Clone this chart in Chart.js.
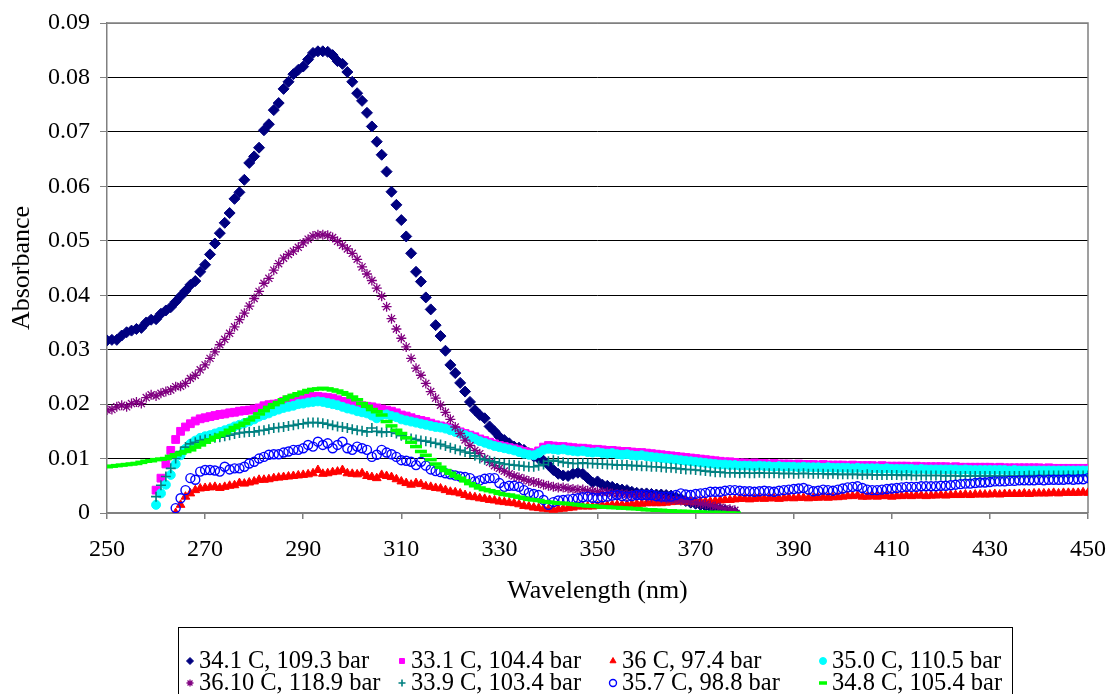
<!DOCTYPE html>
<html>
<head>
<meta charset="utf-8">
<title>Absorbance spectra</title>
<script src="https://cdn.jsdelivr.net/npm/chart.js@4/dist/chart.umd.min.js"></script>
<style>
  html, body { margin: 0; padding: 0; background: #fff; }
  #wrap { width: 1109px; height: 694px; }
</style>
</head>
<body>
<div id="wrap"><canvas id="specChart" width="1109" height="694"></canvas></div>
<script>
// Absorbance readings, one value per nm starting at the listed wavelength

// 34.1 C, 109.3 bar (from 250 nm)
const abs341 = [
  0.0317,0.0318,0.0318,0.0326,0.0332,0.0335,0.0338,0.0340,0.0350,0.0355,
  0.0356,0.0366,0.0372,0.0378,0.0388,0.0398,0.0408,0.0419,0.0426,0.0443,
  0.0456,0.0475,0.0495,0.0514,0.0533,0.0551,0.0577,0.0589,0.0612,0.0643,
  0.0655,0.0671,0.0703,0.0714,0.0740,0.0753,0.0779,0.0792,0.0806,0.0814,
  0.0820,0.0833,0.0845,0.0848,0.0848,0.0847,0.0841,0.0830,0.0825,0.0810,
  0.0792,0.0771,0.0757,0.0735,0.0710,0.0682,0.0658,0.0627,0.0590,0.0566,
  0.0538,0.0508,0.0477,0.0443,0.0425,0.0396,0.0374,0.0345,0.0325,0.0298,
  0.0272,0.0257,0.0239,0.0223,0.0204,0.0189,0.0180,0.0174,0.0159,0.0150,
  0.0140,0.0134,0.0128,0.0122,0.0120,0.0116,0.0110,0.0104,0.0100,0.0096,
  0.0088,0.0079,0.0072,0.0069,0.0068,0.0072,0.0074,0.0072,0.0064,0.0056,
  0.0058,0.0052,0.0050,0.0048,0.0045,0.0043,0.0042,0.0039,0.0037,0.0036,
  0.0036,0.0035,0.0034,0.0034,0.0033,0.0032,0.0029,0.0026,0.0022,0.0019,
  0.0017,0.0015,0.0013,0.0011,0.0009,0.0007,0.0005,0.0003,0.0001
];

// 33.1 C, 104.4 bar (from 260 nm)
const abs331 = [
  0.0042,0.0064,0.0090,0.0115,0.0135,0.0150,0.0158,0.0164,0.0169,0.0173,
  0.0175,0.0177,0.0179,0.0181,0.0182,0.0184,0.0185,0.0187,0.0188,0.0189,
  0.0191,0.0193,0.0197,0.0199,0.0200,0.0201,0.0205,0.0208,0.0211,0.0212,
  0.0213,0.0214,0.0214,0.0214,0.0213,0.0212,0.0211,0.0208,0.0205,0.0203,
  0.0200,0.0198,0.0197,0.0196,0.0195,0.0193,0.0191,0.0189,0.0187,0.0184,
  0.0180,0.0178,0.0175,0.0172,0.0170,0.0168,0.0165,0.0162,0.0160,0.0158,
  0.0155,0.0152,0.0149,0.0146,0.0143,0.0140,0.0136,0.0133,0.0130,0.0127,
  0.0124,0.0122,0.0120,0.0118,0.0116,0.0113,0.0111,0.0110,0.0114,0.0121,
  0.0124,0.0123,0.0122,0.0122,0.0121,0.0120,0.0119,0.0119,0.0118,0.0117,
  0.0117,0.0116,0.0115,0.0115,0.0114,0.0113,0.0113,0.0112,0.0111,0.0111,
  0.0110,0.0109,0.0108,0.0107,0.0106,0.0105,0.0104,0.0103,0.0102,0.0101,
  0.0100,0.0099,0.0098,0.0097,0.0096,0.0095,0.0094,0.0094,0.0093,0.0092,
  0.0092,0.0091,0.0092,0.0091,0.0091,0.0090,0.0091,0.0090,0.0090,0.0090,
  0.0089,0.0090,0.0089,0.0089,0.0089,0.0088,0.0089,0.0088,0.0088,0.0088,
  0.0088,0.0087,0.0088,0.0087,0.0087,0.0087,0.0087,0.0086,0.0087,0.0086,
  0.0086,0.0086,0.0086,0.0086,0.0085,0.0086,0.0085,0.0085,0.0085,0.0085,
  0.0085,0.0085,0.0084,0.0085,0.0084,0.0084,0.0084,0.0084,0.0084,0.0084,
  0.0084,0.0083,0.0084,0.0083,0.0083,0.0083,0.0083,0.0083,0.0083,0.0083,
  0.0083,0.0082,0.0083,0.0082,0.0082,0.0082,0.0082,0.0082,0.0082,0.0082,0.0082
];

// 36 C, 97.4 bar (from 264 nm)
const abs360 = [
  0.0000,0.0015,0.0030,0.0036,0.0042,0.0045,
  0.0046,0.0047,0.0048,0.0046,0.0048,0.0050,0.0051,0.0055,0.0054,0.0056,
  0.0058,0.0061,0.0061,0.0062,0.0064,0.0065,0.0066,0.0067,0.0068,0.0069,
  0.0070,0.0071,0.0073,0.0079,0.0072,0.0073,0.0075,0.0076,0.0079,0.0073,
  0.0072,0.0071,0.0073,0.0068,0.0066,0.0064,0.0070,0.0068,0.0066,0.0062,
  0.0058,0.0055,0.0052,0.0055,0.0053,0.0049,0.0048,0.0046,0.0045,0.0042,
  0.0039,0.0038,0.0036,0.0033,0.0030,0.0029,0.0027,0.0026,0.0024,0.0023,
  0.0021,0.0020,0.0019,0.0018,0.0016,0.0013,0.0012,0.0010,0.0009,0.0008,
  0.0007,0.0006,0.0007,0.0008,0.0009,0.0010,0.0012,0.0012,0.0012,0.0012,
  0.0013,0.0014,0.0014,0.0015,0.0015,0.0015,0.0015,0.0016,0.0017,0.0017,
  0.0018,0.0018,0.0018,0.0018,0.0019,0.0020,0.0021,0.0021,0.0021,0.0021,
  0.0021,0.0021,0.0021,0.0021,0.0022,0.0023,0.0024,0.0024,0.0025,0.0026,
  0.0026,0.0025,0.0026,0.0027,0.0026,0.0027,0.0027,0.0026,0.0027,0.0028,
  0.0027,0.0028,0.0028,0.0027,0.0028,0.0028,0.0029,0.0028,0.0029,0.0029,
  0.0030,0.0031,0.0031,0.0032,0.0030,0.0030,0.0031,0.0030,0.0031,0.0031,
  0.0030,0.0031,0.0031,0.0032,0.0031,0.0032,0.0032,0.0031,0.0032,0.0032,
  0.0033,0.0032,0.0033,0.0033,0.0033,0.0034,0.0033,0.0034,0.0034,0.0034,
  0.0034,0.0035,0.0034,0.0035,0.0035,0.0035,0.0035,0.0036,0.0035,0.0036,
  0.0036,0.0036,0.0036,0.0037,0.0036,0.0037,0.0037,0.0037,0.0037,0.0038,0.0037
];

// 35.0 C, 110.5 bar (from 260 nm)
const abs350 = [
  0.0015,0.0036,0.0052,0.0070,0.0090,0.0106,0.0118,0.0127,0.0133,0.0138,
  0.0141,0.0143,0.0146,0.0149,0.0152,0.0155,0.0159,0.0162,0.0165,0.0168,
  0.0172,0.0177,0.0180,0.0183,0.0187,0.0190,0.0193,0.0195,0.0197,0.0200,
  0.0201,0.0203,0.0204,0.0205,0.0204,0.0202,0.0200,0.0198,0.0195,0.0192,
  0.0190,0.0187,0.0185,0.0183,0.0179,0.0174,0.0180,0.0181,0.0178,0.0176,
  0.0172,0.0170,0.0168,0.0166,0.0164,0.0162,0.0160,0.0158,0.0157,0.0155,
  0.0152,0.0149,0.0146,0.0143,0.0140,0.0136,0.0132,0.0129,0.0126,0.0123,
  0.0121,0.0119,0.0117,0.0115,0.0112,0.0109,0.0107,0.0106,0.0110,0.0116,
  0.0118,0.0117,0.0116,0.0117,0.0115,0.0114,0.0113,0.0114,0.0112,0.0111,
  0.0112,0.0110,0.0109,0.0110,0.0108,0.0107,0.0108,0.0106,0.0105,0.0106,
  0.0104,0.0103,0.0102,0.0101,0.0100,0.0099,0.0098,0.0097,0.0096,0.0095,
  0.0094,0.0093,0.0092,0.0091,0.0090,0.0089,0.0089,0.0088,0.0088,0.0087,
  0.0087,0.0087,0.0086,0.0087,0.0086,0.0086,0.0085,0.0086,0.0085,0.0085,
  0.0085,0.0084,0.0085,0.0084,0.0084,0.0084,0.0083,0.0084,0.0083,0.0083,
  0.0083,0.0083,0.0082,0.0083,0.0082,0.0082,0.0082,0.0082,0.0081,0.0082,
  0.0081,0.0081,0.0081,0.0081,0.0081,0.0080,0.0081,0.0080,0.0080,0.0080,
  0.0080,0.0080,0.0080,0.0080,0.0079,0.0080,0.0079,0.0079,0.0079,0.0079,
  0.0079,0.0079,0.0079,0.0079,0.0078,0.0079,0.0078,0.0078,0.0078,0.0078,
  0.0078,0.0078,0.0078,0.0078,0.0078,0.0078,0.0078,0.0078,0.0078,0.0078,0.0078
];

// 36.10 C, 118.9 bar (from 250 nm)
const abs3610 = [
  0.0189,0.0190,0.0195,0.0198,0.0195,0.0201,0.0204,0.0201,0.0212,0.0217,
  0.0215,0.0220,0.0223,0.0226,0.0232,0.0233,0.0238,0.0247,0.0253,0.0263,
  0.0272,0.0284,0.0296,0.0309,0.0319,0.0330,0.0342,0.0355,0.0367,0.0380,
  0.0394,0.0407,0.0422,0.0431,0.0446,0.0458,0.0468,0.0475,0.0481,0.0488,
  0.0496,0.0503,0.0509,0.0511,0.0511,0.0510,0.0506,0.0499,0.0492,0.0485,
  0.0477,0.0466,0.0452,0.0439,0.0427,0.0413,0.0398,0.0379,0.0357,0.0338,
  0.0321,0.0305,0.0284,0.0266,0.0253,0.0238,0.0223,0.0211,0.0198,0.0185,
  0.0172,0.0158,0.0146,0.0134,0.0124,0.0115,0.0109,0.0100,0.0093,0.0087,
  0.0082,0.0077,0.0072,0.0068,0.0065,0.0062,0.0059,0.0057,0.0055,0.0052,
  0.0050,0.0048,0.0047,0.0047,0.0045,0.0044,0.0043,0.0043,0.0041,0.0040,
  0.0039,0.0038,0.0038,0.0036,0.0035,0.0035,0.0034,0.0033,0.0032,0.0031,
  0.0030,0.0029,0.0029,0.0027,0.0026,0.0025,0.0024,0.0023,0.0022,0.0020,
  0.0019,0.0017,0.0016,0.0014,0.0012,0.0010,0.0008,0.0007,0.0005
];

// 33.9 C, 103.4 bar (from 260 nm)
const abs339 = [
  0.0030,0.0051,0.0067,0.0082,0.0100,0.0113,0.0121,0.0127,0.0130,0.0133,
  0.0135,0.0136,0.0138,0.0139,0.0141,0.0143,0.0145,0.0147,0.0148,0.0149,
  0.0149,0.0151,0.0152,0.0154,0.0156,0.0157,0.0158,0.0160,0.0161,0.0163,
  0.0164,0.0166,0.0166,0.0166,0.0165,0.0163,0.0161,0.0159,0.0158,0.0156,
  0.0154,0.0152,0.0151,0.0149,0.0156,0.0150,0.0148,0.0149,0.0149,0.0146,
  0.0142,0.0139,0.0137,0.0135,0.0133,0.0132,0.0130,0.0128,0.0126,0.0123,
  0.0120,0.0117,0.0115,0.0112,0.0110,0.0105,0.0100,0.0098,0.0096,0.0094,
  0.0092,0.0090,0.0089,0.0088,0.0087,0.0086,0.0085,0.0085,0.0087,0.0089,
  0.0095,0.0097,0.0095,0.0093,0.0092,0.0091,0.0091,0.0092,0.0091,0.0091,
  0.0090,0.0090,0.0089,0.0089,0.0088,0.0088,0.0088,0.0087,0.0087,0.0086,
  0.0086,0.0085,0.0085,0.0084,0.0083,0.0083,0.0082,0.0081,0.0080,0.0080,
  0.0079,0.0078,0.0077,0.0076,0.0075,0.0075,0.0074,0.0074,0.0074,0.0073,
  0.0074,0.0073,0.0073,0.0074,0.0073,0.0073,0.0073,0.0073,0.0072,0.0073,
  0.0072,0.0072,0.0073,0.0072,0.0072,0.0072,0.0072,0.0071,0.0072,0.0071,
  0.0071,0.0071,0.0071,0.0071,0.0070,0.0071,0.0070,0.0070,0.0070,0.0070,
  0.0070,0.0070,0.0069,0.0070,0.0069,0.0069,0.0069,0.0069,0.0069,0.0069,
  0.0069,0.0068,0.0069,0.0068,0.0068,0.0068,0.0068,0.0068,0.0068,0.0068,
  0.0068,0.0068,0.0068,0.0068,0.0068,0.0068,0.0068,0.0068,0.0069,0.0068,
  0.0069,0.0069,0.0069,0.0069,0.0069,0.0069,0.0069,0.0069,0.0069,0.0069,0.0069
];

// 35.7 C, 98.8 bar (from 264 nm)
const abs357 = [
  0.0009,0.0027,0.0042,0.0064,0.0061,0.0076,
  0.0079,0.0079,0.0078,0.0076,0.0085,0.0080,0.0082,0.0082,0.0085,0.0091,
  0.0094,0.0100,0.0103,0.0107,0.0108,0.0108,0.0111,0.0113,0.0116,0.0116,
  0.0119,0.0125,0.0122,0.0131,0.0125,0.0128,0.0119,0.0125,0.0131,0.0119,
  0.0116,0.0122,0.0119,0.0116,0.0103,0.0107,0.0116,0.0111,0.0108,0.0103,
  0.0097,0.0096,0.0094,0.0088,0.0094,0.0087,0.0080,0.0077,0.0075,0.0073,
  0.0071,0.0069,0.0067,0.0066,0.0064,0.0058,0.0060,0.0063,0.0064,0.0064,
  0.0055,0.0048,0.0050,0.0050,0.0048,0.0042,0.0037,0.0035,0.0033,0.0024,
  0.0015,0.0020,0.0023,0.0024,0.0025,0.0026,0.0027,0.0029,0.0030,0.0028,
  0.0027,0.0029,0.0030,0.0032,0.0033,0.0031,0.0030,0.0031,0.0033,0.0033,
  0.0033,0.0033,0.0031,0.0030,0.0030,0.0030,0.0033,0.0036,0.0034,0.0033,
  0.0035,0.0036,0.0037,0.0039,0.0039,0.0039,0.0041,0.0042,0.0042,0.0041,
  0.0040,0.0040,0.0039,0.0040,0.0041,0.0040,0.0039,0.0041,0.0042,0.0043,
  0.0044,0.0045,0.0046,0.0043,0.0040,0.0041,0.0043,0.0042,0.0041,0.0043,
  0.0045,0.0047,0.0048,0.0049,0.0046,0.0043,0.0042,0.0042,0.0043,0.0044,
  0.0045,0.0046,0.0047,0.0048,0.0048,0.0048,0.0049,0.0049,0.0049,0.0049,
  0.0050,0.0050,0.0051,0.0052,0.0053,0.0054,0.0054,0.0055,0.0056,0.0056,
  0.0057,0.0058,0.0058,0.0058,0.0059,0.0059,0.0060,0.0060,0.0060,0.0060,
  0.0061,0.0060,0.0061,0.0061,0.0061,0.0061,0.0062,0.0061,0.0062,0.0062,0.0064
];

// 34.8 C, 105.4 bar (from 250 nm)
const abs348 = [
  0.0085,0.0086,0.0087,0.0088,0.0089,0.0090,0.0091,0.0093,0.0095,0.0096,
  0.0098,0.0099,0.0100,0.0104,0.0107,0.0110,0.0113,0.0116,0.0121,0.0125,
  0.0130,0.0134,0.0139,0.0143,0.0147,0.0152,0.0157,0.0161,0.0165,0.0171,
  0.0176,0.0182,0.0188,0.0194,0.0199,0.0203,0.0208,0.0213,0.0216,0.0219,
  0.0222,0.0225,0.0227,0.0228,0.0229,0.0228,0.0226,0.0224,0.0221,0.0218,
  0.0213,0.0208,0.0201,0.0196,0.0190,0.0186,0.0180,0.0168,0.0160,0.0152,
  0.0146,0.0138,0.0130,0.0122,0.0113,0.0106,0.0098,0.0090,0.0084,0.0078,
  0.0073,0.0068,0.0064,0.0059,0.0054,0.0050,0.0046,0.0043,0.0041,0.0039,
  0.0036,0.0034,0.0033,0.0031,0.0029,0.0027,0.0025,0.0024,0.0023,0.0021,
  0.0020,0.0019,0.0018,0.0018,0.0017,0.0016,0.0015,0.0014,0.0013,0.0013,
  0.0012,0.0011,0.0011,0.0010,0.0010,0.0009,0.0009,0.0008,0.0008,0.0007,
  0.0006,0.0006,0.0005,0.0005,0.0004,0.0004,0.0003,0.0003,0.0003,0.0002,
  0.0002,0.0002,0.0001,0.0001,0.0001,0.0001,0.0000,0.0000,0.0000
];

// axis ticks
const xTicks = [250, 270, 290, 310, 330, 350, 370, 390, 410, 430, 450];
const yTicks = [0, 0.01, 0.02, 0.03, 0.04, 0.05, 0.06, 0.07, 0.08, 0.09];

const serif = '"Liberation Serif", "Times New Roman", serif';

// label, first wavelength, values, marker
const runs = [
  { label: '34.1 C, 109.3 bar', start: 250, values: abs341, style: 'rectRot', r: 5.5, fill: '#000080', line: '#000080', bw: 1 },
  { label: '33.1 C, 104.4 bar', start: 260, values: abs331, style: 'rect', r: 5.5, fill: '#FF00FF', line: '#FF00FF', bw: 1 },
  { label: '36 C, 97.4 bar', start: 264, values: abs360, style: 'triangle', r: 5, fill: '#FF0000', line: '#FF0000', bw: 1 },
  { label: '35.0 C, 110.5 bar', start: 260, values: abs350, style: 'circle', r: 4.5, fill: '#00FFFF', line: '#00FFFF', bw: 1 },
  { label: '36.10 C, 118.9 bar', start: 250, values: abs3610, style: 'star', r: 5, fill: '#800080', line: '#800080', bw: 1.3 },
  { label: '33.9 C, 103.4 bar', start: 260, values: abs339, style: 'cross', r: 5, fill: '#008080', line: '#008080', bw: 1.6 },
  { label: '35.7 C, 98.8 bar', start: 264, values: abs357, style: 'circle', r: 4.5, fill: 'rgba(0,0,0,0)', line: '#0000FF', bw: 1.4 },
  { label: '34.8 C, 105.4 bar', start: 250, values: abs348, style: 'line', r: 6, fill: '#00FF00', line: '#00FF00', bw: 3.5 }
];

function toPoints(start, values) {
  return values.map((v, i) => ({ x: start + i, y: v }));
}

// frame on top/right of the plot area, Excel style
const plotFrame = {
  id: 'plotFrame',
  beforeDatasetsDraw(chart) {
    const { ctx, chartArea: a } = chart;
    ctx.save();
    ctx.strokeStyle = '#808080';
    ctx.lineWidth = 1.5;
    ctx.beginPath();
    ctx.moveTo(a.left, a.top);
    ctx.lineTo(a.right, a.top);
    ctx.lineTo(a.right, a.bottom);
    ctx.stroke();
    ctx.restore();
  }
};

// boxed legend, 4 columns x 2 rows
const legendCols = [190, 402, 613, 823];
const legendRows = [661, 683];
const legendBox = {
  id: 'legendBox',
  afterDraw(chart) {
    const ctx = chart.ctx;
    ctx.save();
    ctx.strokeStyle = '#000';
    ctx.lineWidth = 1;
    ctx.strokeRect(178.5, 627.5, 834, 80);
    ctx.font = '24.5px ' + serif;
    ctx.textBaseline = 'middle';
    chart.data.datasets.forEach((ds, i) => {
      const x = legendCols[i % 4];
      const y = legendRows[Math.floor(i / 4)];
      ctx.fillStyle = ds.pointBackgroundColor;
      ctx.strokeStyle = ds.pointBorderColor;
      ctx.lineWidth = ds.pointBorderWidth;
      Chart.helpers.drawPoint(ctx, {
        pointStyle: ds.pointStyle,
        radius: ds.pointStyle === 'line' ? 4 : 3.5,
        rotation: 0,
        borderWidth: ds.pointBorderWidth
      }, x, y);
      ctx.fillStyle = '#000';
      ctx.fillText(ds.label, x + 9, y + 1);
    });
    ctx.restore();
  }
};

const datasets = runs.map((s, i) => ({
  label: s.label,
  data: toPoints(s.start, s.values),
  showLine: false,
  pointStyle: s.style,
  pointRadius: s.r,
  pointHoverRadius: s.r,
  pointBackgroundColor: s.fill,
  pointBorderColor: s.line,
  pointBorderWidth: s.bw,
  order: runs.length - i   // later runs sit on top
}));

Chart.defaults.font.family = serif;
Chart.defaults.color = '#000';

new Chart(document.getElementById('specChart'), {
  type: 'scatter',
  data: { datasets },
  options: {
    responsive: false,
    animation: false,
    events: [],
    layout: { padding: { left: 0, right: 21, top: 23, bottom: 84 } },
    plugins: { legend: { display: false }, tooltip: { enabled: false } },
    scales: {
      x: {
        type: 'linear',
        min: xTicks[0],
        max: xTicks[xTicks.length - 1],
        // fixed box; end labels may hang into the page margin
        afterFit: s => { s.height = 97; s.paddingLeft = 0; s.paddingRight = 0; },
        afterBuildTicks: s => { s.ticks = xTicks.map(v => ({ value: v })); },
        ticks: { font: { size: 24 }, padding: 16, maxRotation: 0, callback: v => String(v) },
        grid: { drawOnChartArea: false, drawTicks: true, tickLength: 6, color: '#808080', lineWidth: 1.5 },
        border: { color: '#808080', width: 1.5 },
        title: { display: true, text: 'Wavelength (nm)', font: { size: 26 }, padding: { top: 0, bottom: 3 } }
      },
      y: {
        min: yTicks[0],
        max: yTicks[yTicks.length - 1],
        afterFit: s => { s.width = 107; s.paddingTop = 0; s.paddingBottom = 0; },
        afterBuildTicks: s => { s.ticks = yTicks.map(v => ({ value: v })); },
        ticks: { font: { size: 24 }, padding: 10, callback: v => v === 0 ? '0' : v.toFixed(2) },
        grid: {
          color: c => (c.tick && (c.tick.value === 0 || c.tick.value > 0.085)) ? '#808080' : '#000',
          lineWidth: 1,
          tickColor: '#808080',
          tickLength: 7
        },
        border: { color: '#808080', width: 1.5 },
        title: { display: true, text: 'Absorbance', font: { size: 26 }, padding: { top: 7, bottom: 0 } }
      }
    }
  },
  plugins: [plotFrame, legendBox]
});
</script>
</body>
</html>
